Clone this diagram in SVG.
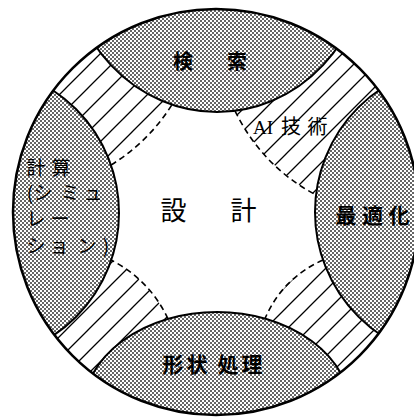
<svg xmlns="http://www.w3.org/2000/svg" width="414" height="417" viewBox="0 0 414 417">
<defs>
<style>
.blob{fill:url(#dots);stroke:#000;stroke-width:2}
.dash{fill:none;stroke:#000;stroke-width:1.6;stroke-dasharray:6 4}
.jp{font-family:"Noto Sans CJK JP","Noto Sans",sans-serif;fill:#000;text-anchor:middle}
.b{font-weight:bold}
</style>
<pattern id="dots" width="4" height="4" patternUnits="userSpaceOnUse">
<rect width="4" height="4" fill="#fff"/>
<rect width="2" height="2" fill="#666"/>
<rect x="2" y="2" width="2" height="2" fill="#666"/>
</pattern>
<pattern id="hatch" width="22" height="22" patternUnits="userSpaceOnUse">
<rect width="22" height="22" fill="#fff"/>
<path d="M0,22 L22,0 M-2,2 L2,-2 M20,24 L24,20" stroke="#000" stroke-width="1.3"/>
</pattern>
<clipPath id="disk"><circle cx="216" cy="212" r="203"/></clipPath>
</defs>
<rect width="414" height="417" fill="#fff"/>
<g id="ai-region">
<circle cx="216" cy="212" r="203" fill="url(#hatch)"/>
<path fill="#fff" d="M111,165 Q148.5,141.9 172,104.6 L235,110.8 Q261.8,166.1 316,195 L323,260 Q282.6,278 265,318.6 L168,318.9 Q149.6,279.8 111,260 Z"/>
</g>
<g id="connectors">
<path class="dash" d="M111,165 Q148.5,141.9 172,104.6"/>
<path class="dash" d="M235,110.8 Q261.8,166.1 316,195"/>
<path class="dash" d="M323,260 Q282.6,278 265,318.6"/>
<path class="dash" d="M168,318.9 Q149.6,279.8 111,260"/>
</g>
<g id="node-search">
<ellipse class="blob" clip-path="url(#disk)" cx="217" cy="-48" rx="150" ry="160"/>
<text class="jp b" font-size="20" x="183 237" y="69">検索</text>
</g>
<g id="node-simulation">
<circle class="blob" clip-path="url(#disk)" cx="-28" cy="213" r="147"/>
<text class="jp" font-size="19" x="36 61" y="175">計算</text>
<text class="jp" font-size="19" x="30 43 70 93" y="200">(シミュ</text>
<text class="jp" font-size="19" x="36 60" y="226">レー</text>
<text class="jp" font-size="19" x="36 59 87 106" y="253">ション)</text>
</g>
<g id="node-optimize">
<circle class="blob" clip-path="url(#disk)" cx="463" cy="212" r="148"/>
<text class="jp b" font-size="21" x="346 372.5 399" y="223">最適化</text>
</g>
<g id="node-shape">
<ellipse class="blob" clip-path="url(#disk)" cx="217" cy="411" rx="134" ry="99"/>
<text class="jp b" font-size="21" x="173 197 228 252" y="372">形状処理</text>
</g>
<circle cx="216" cy="212" r="203" fill="none" stroke="#000" stroke-width="2.5"/>
<g id="node-ai">
<text font-family="Liberation Serif, serif" font-size="19" x="253" y="134">AI</text>
<text class="jp" font-size="20" x="291 317.5" y="134">技術</text>
</g>
<g id="node-design">
<text class="jp" font-size="26" x="173.5 243.5" y="220">設計</text>
</g>
</svg>
